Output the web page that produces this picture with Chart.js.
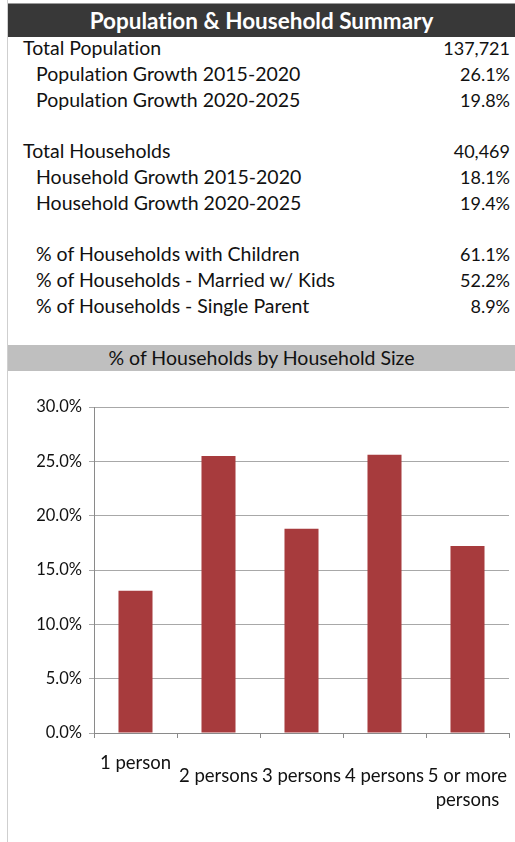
<!DOCTYPE html>
<html>
<head>
<meta charset="utf-8">
<script src="https://cdn.jsdelivr.net/npm/chart.js@4.4.0/dist/chart.umd.min.js"></script>
<style>
  body{margin:0;width:515px;height:842px;position:relative;background:#fff;font-family:Lato,"Noto Sans",sans-serif;color:#111;overflow:hidden;font-variant-ligatures:none;}
  .vline{position:absolute;left:7px;top:0;width:1px;height:842px;background:#cfcfcf;}
  .head{position:absolute;left:8px;right:0;top:3px;height:33px;background:#383838;border-top:1px solid #9a9a9a;color:#fff;font-weight:bold;font-size:22.5px;text-align:center;line-height:33px;}
  .row{position:absolute;left:23px;right:5px;height:26px;font-size:19.5px;line-height:26px;}
  .row.ind{left:36px;}
  .row span{position:absolute;right:0;top:0;font-size:18px;}
  .band{position:absolute;left:8px;right:0;top:345px;height:26px;background:#bfbfbf;font-size:19.5px;line-height:26px;text-align:center;color:#111;}
  #wrap{position:absolute;left:0;top:380px;width:515px;height:462px;}
</style>
</head>
<body>
<div class="vline"></div>
<div class="head">Population &amp; Household Summary</div>
<div id="rows"></div>
<div class="band">% of Households by Household Size</div>
<div id="wrap"><canvas id="chartSize" width="515" height="462"></canvas></div>
<script>
const summaryLabels = ['Total Population','Population Growth 2015-2020','Population Growth 2020-2025','',
  'Total Households','Household Growth 2015-2020','Household Growth 2020-2025','',
  '% of Households with Children','% of Households - Married w/ Kids','% of Households - Single Parent'];
const summaryValues = ['137,721','26.1%','19.8%','','40,469','18.1%','19.4%','','61.1%','52.2%','8.9%'];
const summaryIndent = [false,true,true,false,false,true,true,false,true,true,true];

const sizeLabels = ['1 person','2 persons','3 persons','4 persons',['5 or more','persons']];
const sizeValues = [13.1, 25.5, 18.8, 25.6, 17.2];
const yTicks = [0, 30, 5];

const rows = document.getElementById('rows');
summaryLabels.forEach(function(lab, i){
    if(!lab) return;
    const d = document.createElement('div');
    d.className = 'row' + (summaryIndent[i] ? ' ind' : '');
    d.style.top = (35 + i*25.8) + 'px';
    d.textContent = lab;
    const s = document.createElement('span');
    s.textContent = summaryValues[i];
    d.appendChild(s);
    rows.appendChild(d);
});

const xLabelPlugin = {
    id:'xLabels',
    afterDraw(chart){
        const ctx = chart.ctx;
        const xs = chart.scales.x;
        ctx.save();
        ctx.font = '18.5px Lato, "Noto Sans", sans-serif';
        ctx.fillStyle = '#111';
        ctx.textAlign = 'center';
        ctx.textBaseline = 'middle';
        sizeLabels.forEach(function(lab, i){
            const x = xs.getPixelForValue(i);
            if(i === 0){
                ctx.fillText(lab, x, xs.top + 30);
            } else {
                const lines = Array.isArray(lab) ? lab : [lab];
                lines.forEach(function(t, j){
                    ctx.fillText(t, x, xs.top + 43 + j*24);
                });
            }
        });
        ctx.restore();
    }
};

new Chart(document.getElementById('chartSize').getContext('2d'), {
    type:'bar',
    data:{
        labels: sizeLabels,
        datasets:[{
            data: sizeValues,
            backgroundColor:'#a73b3d',
            categoryPercentage:1,
            barPercentage:0.41
        }]
    },
    options:{
        responsive:false,
        animation:false,
        layout:{padding:{left:0, top:27, right:6, bottom:0}},
        plugins:{legend:{display:false}, tooltip:{enabled:false}},
        scales:{
            x:{
                afterFit(s){ s.height = 109; },
                grid:{offset:true, drawOnChartArea:false, drawTicks:true, tickLength:5, color:'#8a8a8a'},
                border:{color:'#8a8a8a'},
                ticks:{display:false}
            },
            y:{
                min: yTicks[0], max: yTicks[1],
                afterFit(s){ s.width = 94; },
                grid:{color:'#a8a8a8', tickLength:5, drawTicks:true},
                border:{color:'#8a8a8a'},
                ticks:{
                    stepSize: yTicks[2],
                    padding:7,
                    color:'#111',
                    font:{family:'Lato, "Noto Sans", sans-serif', size:16.5},
                    callback: v => v.toFixed(1) + '%'
                }
            }
        }
    },
    plugins:[xLabelPlugin]
});
</script>
</body>
</html>
